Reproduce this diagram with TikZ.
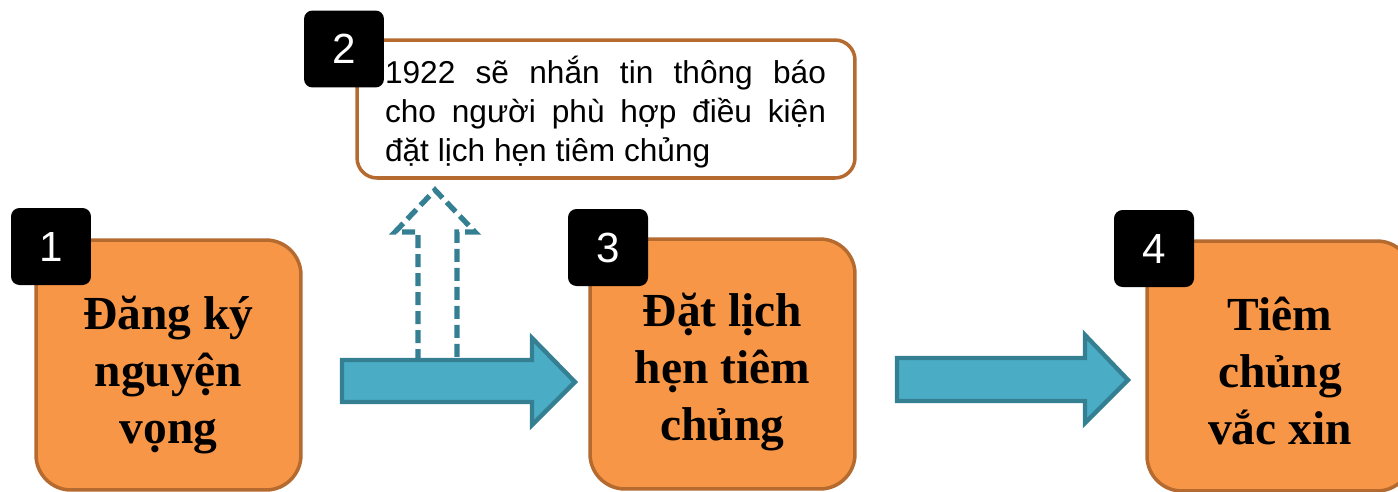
\documentclass[tikz,border=0pt]{standalone}
\usepackage{fontspec}
\setmainfont{Liberation Serif}
\newfontfamily\arialfont{Liberation Sans}
\usepackage{tikz}

\definecolor{stepfill}{HTML}{F79646}
\definecolor{stepline}{HTML}{B56A30}
\definecolor{arrfill}{HTML}{4BACC6}
\definecolor{arrline}{HTML}{357F93}

\begin{document}
\begin{tikzpicture}[x=0.02cm,y=-0.02cm,
	stepbox/.style={draw=stepline, fill=stepfill, line width=2pt, rounded corners=0.7cm, minimum width=5.3cm, minimum height=5cm, inner sep=0pt},
	steptext/.style={font=\fontsize{27}{32.5}\selectfont\bfseries, align=center},
	badge/.style={fill=black, rounded corners=0.17cm, minimum width=1.6cm, minimum height=1.54cm, inner sep=0pt, text=white, font=\arialfont\fontsize{24}{24}\selectfont},
	notebox/.style={draw=stepline, fill=white, line width=2pt, rounded corners=0.4cm, minimum width=9.96cm, minimum height=2.76cm, inner sep=0pt},
	blockarrow/.style={draw=arrline, fill=arrfill, line width=2.5pt, line join=miter}]
	\useasboundingbox (0,0) rectangle (1398,491);
	\clip (0,0) rectangle (1398,491);
	% dashed up arrow
	\draw[draw=arrline, fill=white, line width=3pt, dash pattern=on 0.26cm off 0.12cm] (418,362) -- (418,232) -- (395,232) -- (435,190) -- (475,232) -- (457,232) -- (457,362) -- cycle;
	% block arrows
	\draw[blockarrow] (342,360) -- (532,360) -- (532,338) -- (575,382) -- (532,425) -- (532,402) -- (342,402) -- cycle;
	\draw[blockarrow] (897,358) -- (1085,358) -- (1085,335) -- (1128,380) -- (1085,423) -- (1085,401) -- (897,401) -- cycle;
	% steps
	\node[stepbox] (dangky) at (168.5,365) {};
	\node[stepbox] (datlich) at (722.5,364) {};
	\node[stepbox] (tiem) at (1279.5,366) {};
	\node[steptext] (dangkytext) at (168.5,375) {Đăng ký\\nguyện\\vọng};
	\node[steptext] (datlichtext) at (722.5,372) {Đặt lịch\\hẹn tiêm\\chủng};
	\node[steptext] (tiemtext) at (1280,371) {Tiêm\\chủng\\vắc xin};
	\node[notebox] (note) at (606,109) {};
	\node[font=\arialfont\fontsize{18}{22.3}\selectfont, text width=8.82cm, align=justify, inner sep=0pt] (notetext) at (605.5,112) {\makebox[8.82cm][s]{1922 sẽ nhắn tin thông báo}\\\makebox[8.82cm][s]{cho người phù hợp điều kiện}\\đặt lịch hẹn tiêm chủng};
	% number badges
	\node[badge] (b1) at (51,246.5) {1};
	\node[badge] (b2) at (344,49) {2};
	\node[badge] (b3) at (608,247.5) {3};
	\node[badge] (b4) at (1154,248.5) {4};
\end{tikzpicture}
\end{document}
